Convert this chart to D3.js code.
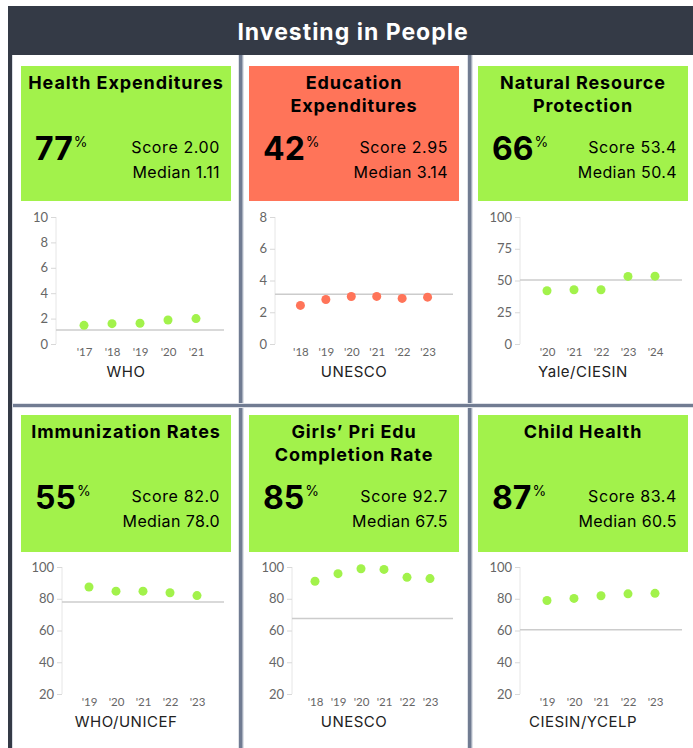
<!DOCTYPE html>
<html>
<head>
<meta charset="utf-8">
<script src="https://cdn.jsdelivr.net/npm/d3@7/dist/d3.min.js"></script>
<style>
  body { margin: 0; background: #fff; }
  svg { display: block; }
  .title { font-family: Inter, "Noto Sans", sans-serif; font-weight: 700; }
  .stat { font-family: Inter, "Noto Sans", sans-serif; }
  .tick-label { font-family: Lato, "DejaVu Sans", sans-serif; fill: #666; }
  .source { font-family: Inter, "Noto Sans", sans-serif; fill: #222; }
</style>
</head>
<body>
<div id="chart"></div>
<script>
// indicator data
var heading = "Investing in People";
var titles = [["Health Expenditures"], ["Education", "Expenditures"], ["Natural Resource", "Protection"],
  ["Immunization Rates"], ["Girls\u2019 Pri Edu", "Completion Rate"], ["Child Health"]];
var percentiles = [77, 42, 66, 55, 85, 87];
var scores = ["2.00", "2.95", "53.4", "82.0", "92.7", "83.4"];
var medians = ["1.11", "3.14", "50.4", "78.0", "67.5", "60.5"];
var sources = ["WHO", "UNESCO", "Yale/CIESIN", "WHO/UNICEF", "UNESCO", "CIESIN/YCELP"];
var yDomains = [[0, 10], [0, 8], [0, 100], [20, 100], [20, 100], [20, 100]];
var yTicks = [[0, 2, 4, 6, 8, 10], [0, 2, 4, 6, 8], [0, 25, 50, 75, 100],
  [20, 40, 60, 80, 100], [20, 40, 60, 80, 100], [20, 40, 60, 80, 100]];
var years = [["'17", "'18", "'19", "'20", "'21"],
  ["'18", "'19", "'20", "'21", "'22", "'23"],
  ["'20", "'21", "'22", "'23", "'24"],
  ["'19", "'20", "'21", "'22", "'23"],
  ["'18", "'19", "'20", "'21", "'22", "'23"],
  ["'19", "'20", "'21", "'22", "'23"]];
var values = [[1.47, 1.60, 1.63, 1.89, 2.00],
  [2.43, 2.80, 2.99, 3.00, 2.87, 2.95],
  [41.9, 42.7, 42.7, 53.2, 53.4],
  [87.4, 84.8, 84.8, 83.8, 82.0],
  [91.0, 95.8, 98.9, 98.5, 93.5, 92.7],
  [78.9, 80.2, 81.9, 83.1, 83.4]];

// page layout
var width = 693;
var height = 748;
var dark = "#343a46";
var divider = "#717c92";
var green = "#a2f24b";
var red = "#ff7459";

var greenX = [21, 249, 478];
var greenTop = [66, 415];
var chartTop = [217, 567];
var chartH = 127;
// left/right pixel edges of each little chart (axis to end of median line)
var plotX = [[56, 224], [275, 453], [520, 682], [62, 224], [292, 453], [520, 682]];

var svg = d3.select("#chart")
  .append("svg")
  .attr("width", width)
  .attr("height", height);

// frame: header band, left border, cell dividers
svg.append("rect").attr("x", 8).attr("y", 6).attr("width", width).attr("height", 49).attr("fill", dark);
svg.append("rect").attr("x", 8).attr("y", 55).attr("width", 4).attr("height", height).attr("fill", dark);
svg.append("rect").attr("x", 12).attr("y", 55).attr("width", 1).attr("height", height).attr("fill", "#d9dde3");

[238, 467].forEach(function (x) {
  svg.append("rect").attr("x", x).attr("y", 55).attr("width", 6).attr("height", height).attr("fill", "#dfe2e8");
  svg.append("rect").attr("x", x + 1).attr("y", 55).attr("width", 3.5).attr("height", height).attr("fill", divider);
});
svg.append("rect").attr("x", 13).attr("y", 403).attr("width", width).attr("height", 5).attr("fill", "#dfe2e8");
svg.append("rect").attr("x", 13).attr("y", 404).attr("width", width).attr("height", 3).attr("fill", divider);

svg.append("text")
  .attr("class", "title")
  .attr("x", 353)
  .attr("y", 40)
  .attr("text-anchor", "middle")
  .attr("fill", "#fff")
  .style("font-size", "23px")
  .style("letter-spacing", "1px")
  .text(heading);

// one card per indicator
titles.forEach(function (title, i) {
  var col = i % 3;
  var row = Math.floor(i / 3);
  var gx = greenX[col];
  var gy = greenTop[row];
  var pass = +scores[i] > +medians[i];
  var colour = pass ? green : red;

  var card = svg.append("g");

  card.append("rect")
    .attr("x", gx)
    .attr("y", gy)
    .attr("width", 210)
    .attr("height", row == 0 ? 135 : 137)
    .attr("fill", colour);

  title.forEach(function (line, j) {
    card.append("text")
      .attr("class", "title")
      .attr("x", gx + 105)
      .attr("y", gy + 23 + j * 22.5)
      .attr("text-anchor", "middle")
      .style("font-size", "18px")
      .style("letter-spacing", "0.9px")
      .attr("fill", "#000")
      .text(line);
  });

  var big = card.append("text")
    .attr("class", "title")
    .attr("x", gx + 14)
    .attr("y", gy + 94)
    .style("font-size", "32px")
    .attr("fill", "#000");
  big.append("tspan").text(percentiles[i]);
  big.append("tspan")
    .attr("dx", 1)
    .attr("dy", -13)
    .style("font-size", "14px")
    .style("font-weight", 400)
    .text("%");

  card.append("text")
    .attr("class", "stat")
    .attr("x", gx + 199)
    .attr("y", gy + 87)
    .attr("text-anchor", "end")
    .style("font-size", "16px")
    .style("letter-spacing", "0.6px")
    .text("Score " + scores[i]);
  card.append("text")
    .attr("class", "stat")
    .attr("x", gx + 199)
    .attr("y", gy + 112)
    .attr("text-anchor", "end")
    .style("font-size", "16px")
    .style("letter-spacing", "0.4px")
    .text("Median " + medians[i]);

  // mini scatter of the yearly scores
  var top = chartTop[row];
  var bottom = top + chartH;
  var x = d3.scalePoint()
    .domain(years[i])
    .range(plotX[i])
    .padding(1);
  var y = d3.scaleLinear()
    .domain(yDomains[i])
    .range([bottom, top]);

  card.append("line")
    .attr("x1", plotX[i][0]).attr("x2", plotX[i][0])
    .attr("y1", top).attr("y2", bottom)
    .attr("stroke", "#e6e6e6");

  var yAxis = d3.axisLeft(y)
    .tickValues(yTicks[i])
    .tickSize(5)
    .tickPadding(3);
  var ya = card.append("g")
    .attr("transform", "translate(" + plotX[i][0] + ",0)")
    .call(yAxis);
  ya.select(".domain").remove();
  ya.selectAll(".tick line").attr("stroke", "#d8d8d8");
  ya.selectAll(".tick text")
    .attr("class", "tick-label")
    .style("font-size", "13px")
    .attr("fill", "#666");

  var xAxis = d3.axisBottom(x)
    .tickSize(0)
    .tickPadding(4);
  var xa = card.append("g")
    .attr("transform", "translate(0," + bottom + ")")
    .call(xAxis);
  xa.select(".domain").remove();
  xa.selectAll(".tick text")
    .attr("class", "tick-label")
    .style("font-size", "11.5px")
    .attr("fill", "#666");

  card.append("line")
    .attr("x1", plotX[i][0])
    .attr("x2", plotX[i][1])
    .attr("y1", y(+medians[i]))
    .attr("y2", y(+medians[i]))
    .attr("stroke", "#cccccc")
    .attr("stroke-width", 1.5);

  card.selectAll("circle")
    .data(values[i])
    .enter()
    .append("circle")
    .attr("cx", function (d, k) { return x(years[i][k]); })
    .attr("cy", function (d) { return y(d); })
    .attr("r", 4.5)
    .attr("fill", colour);

  card.append("text")
    .attr("class", "source")
    .attr("x", gx + 105)
    .attr("y", bottom + 33)
    .attr("text-anchor", "middle")
    .style("font-size", "15px")
    .style("letter-spacing", "0.5px")
    .text(sources[i]);
});
</script>
</body>
</html>
